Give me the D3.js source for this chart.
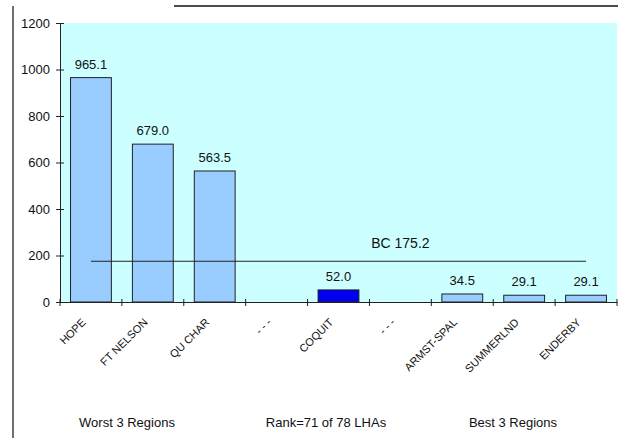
<!DOCTYPE html>
<html><head><meta charset="utf-8">
<script src="https://cdn.jsdelivr.net/npm/d3@7"></script>
<style>body{margin:0;background:#fff}svg{display:block;font-family:"Liberation Sans",Arial,sans-serif}</style>
</head><body>
<svg id="c" width="618" height="438"></svg>
<script>
const categories = ["HOPE","FT NELSON","QU CHAR","- - -","COQUIT","- - -","ARMST-SPAL","SUMMERLND","ENDERBY"];
const values = [965.1, 679.0, 563.5, null, 52.0, null, 34.5, 29.1, 29.1];
const highlight = [false,false,false,false,true,false,false,false,false];
const yTicks = [0,200,400,600,800,1000,1200];
const bcValue = 175.2;
const bcLabel = "BC 175.2";
const footer = ["Worst 3 Regions","Rank=71 of 78 LHAs","Best 3 Regions"];

const svg = d3.select("#c");
const L = 60, R = 617, T = 23, B = 302;
const idx = categories.map((d,i)=>i);
const x = d3.scaleBand().domain(idx).range([L,R]).paddingInner(0.34).paddingOuter(0.17);
const xb = d3.scaleBand().domain(idx).range([L,R]);
const y = d3.scaleLinear().domain([0,1200]).range([B,T]);
const FONT = "Liberation Sans, Arial, sans-serif";

// frame lines
svg.append("line").attr("x1",13).attr("x2",13).attr("y1",6).attr("y2",438).attr("stroke","#222").attr("stroke-width",1.3);
svg.append("line").attr("x1",174).attr("x2",618).attr("y1",6).attr("y2",6).attr("stroke","#111").attr("stroke-width",1.3);

// plot bg
svg.append("rect").attr("x",L+1).attr("y",T).attr("width",R-L-1).attr("height",B-T).attr("fill","#CCFFFF");

// bars
const data = idx.filter(i=>values[i]!=null);
svg.selectAll("rect.bar").data(data).join("rect").attr("class","bar")
  .attr("x",i=>x(i)).attr("width",x.bandwidth())
  .attr("y",i=>y(values[i])).attr("height",i=>B-y(values[i]))
  .attr("fill",i=>highlight[i]?"#0000EE":"#99CCFF").attr("stroke","#222").attr("stroke-width",1);

svg.selectAll("text.val").data(data).join("text").attr("class","val")
  .attr("x",i=>x(i)+x.bandwidth()/2).attr("y",i=>y(values[i])-9)
  .attr("text-anchor","middle").attr("font-size",13).attr("fill","#111")
  .text(i=>values[i].toFixed(1));

// BC line
const c0 = xb(0)+xb.bandwidth()/2, c8 = xb(8)+xb.bandwidth()/2;
svg.append("line").attr("x1",c0).attr("x2",c8).attr("y1",y(bcValue)).attr("y2",y(bcValue)).attr("stroke","#222").attr("stroke-width",1.2);
svg.append("text").attr("x",xb(5)+xb.bandwidth()/2).attr("y",y(bcValue)-13).attr("text-anchor","middle").attr("font-size",14).attr("fill","#111").text(bcLabel);

// y axis
const ya = d3.axisLeft(y).tickValues(yTicks).tickFormat(d3.format("d")).tickSize(0).tickPadding(10);
const gy = svg.append("g").attr("transform",`translate(${L},0)`).call(ya).attr("font-family",FONT);
gy.select(".domain").attr("stroke","#222");
gy.selectAll(".tick text").attr("font-size",13).attr("fill","#111");
gy.selectAll(".tick").append("line").attr("x1",-4).attr("x2",4).attr("stroke","#222");

// x axis
const xa = d3.axisBottom(xb).tickSize(0).tickFormat(()=> "");
const gx = svg.append("g").attr("transform",`translate(0,${B})`).call(xa);
gx.select(".domain").attr("stroke","#222");
const edges = idx.map(i=>xb(i)).concat([R]);
svg.selectAll("line.xt").data(edges).join("line").attr("class","xt")
  .attr("x1",d=>d).attr("x2",d=>d).attr("y1",B-3).attr("y2",B+4).attr("stroke","#222");

svg.selectAll("text.xl").data(idx).join("text").attr("class","xl")
  .attr("transform",i=>`translate(${xb(i)+xb.bandwidth()/2-4.5},${B+21}) rotate(-45)`)
  .attr("text-anchor","end").attr("font-size",11).attr("fill","#111")
  .text(i=>categories[i]);

// footer
const fx = [127, 326, 513];
svg.selectAll("text.ft").data(footer).join("text").attr("class","ft")
  .attr("x",(d,i)=>fx[i]).attr("y",427).attr("text-anchor","middle").attr("font-size",13).attr("fill","#111").text(d=>d);
</script>
</body></html>
